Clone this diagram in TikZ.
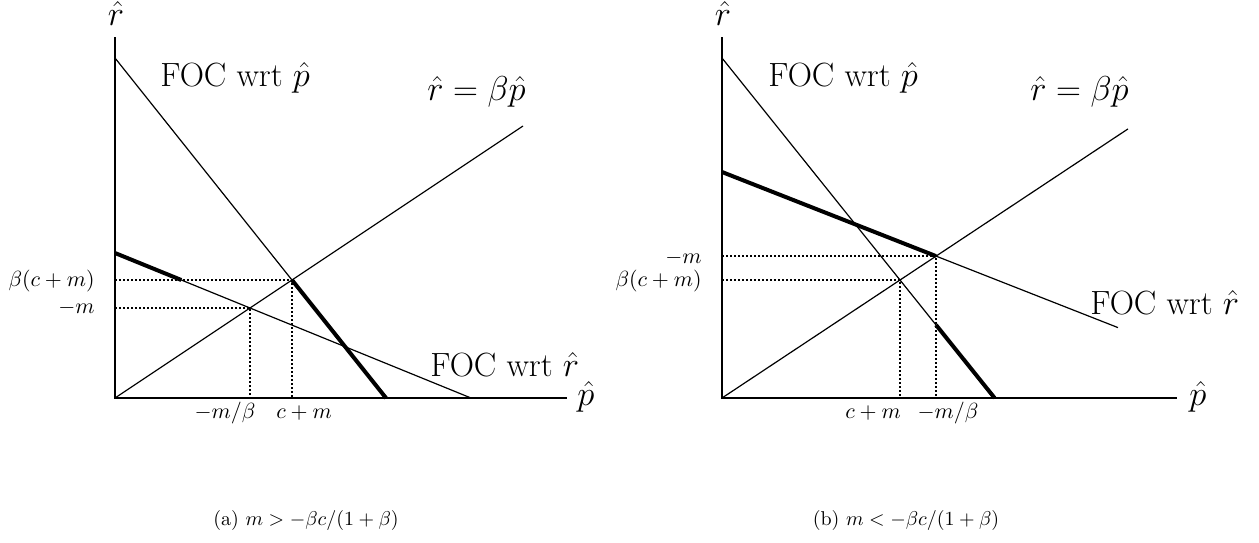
\documentclass[tikz,border=0pt]{standalone}
\tikzset{
  axisline/.style={line width=1pt},
  curveline/.style={line width=0.6pt},
  boldline/.style={line width=2pt},
  guide/.style={line width=1pt, dash pattern=on 1pt off 1pt},
  mainlab/.style={font=\fontsize{16.8}{19}\selectfont, inner sep=0pt},
  smalllab/.style={font=\fontsize{11.4}{13}\selectfont, inner sep=0pt},
  caplab/.style={font=\fontsize{10}{12}\selectfont, inner sep=0pt},
}
\begin{document}
\begin{tikzpicture}[x=0.5pt,y=-0.5pt]
\useasboundingbox (0,0) rectangle (1259,542);
% ---------- left panel ----------
\coordinate (LO) at (115,398);
\coordinate (LYt) at (115,37);
\coordinate (LXr) at (567,398);
\coordinate (LA) at (115,58);
\coordinate (LE) at (292,280);
\coordinate (LB) at (386,398);
\coordinate (LR) at (523,126);
\coordinate (LC) at (115,253);
\coordinate (LF) at (250,308);
\coordinate (LD) at (471,398);
\coordinate (LK) at (181.3,280);
\draw[axisline] (LYt) -- (LO) -- (LXr);
\draw[curveline] (LA) -- (LB);
\draw[curveline] (LO) -- (LR);
\draw[curveline] (LC) -- (LD);
\draw[boldline] (LC) -- (LK);
\draw[boldline] (LE) -- (LB);
\draw[guide] (LO |- LE) -- (LE) -- (LE |- LO);
\draw[guide] (LO |- LF) -- (LF) -- (LF |- LO);
\node[mainlab, anchor=base] (lr) at (116,25) {$\hat r$};
\node[mainlab, anchor=base west] (lp) at (577,405) {$\hat p$};
\node[mainlab, anchor=base west] (lfocp) at (160,86) {FOC wrt $\hat p$};
\node[mainlab, anchor=base west] (lline) at (427,100) {$\hat r=\beta\hat p$};
\node[mainlab, anchor=base west] (lfocr) at (430,376) {FOC wrt $\hat r$};
\node[smalllab, anchor=base east] (lbcm) at (95,286) {$\beta(c+m)$};
\node[smalllab, anchor=base east] (lm) at (95,313) {$-m$};
\node[smalllab, anchor=base] (lmb) at (225,418) {$-m/\beta$};
\node[smalllab, anchor=base] (lcm) at (304,418) {$c+m$};
\node[caplab, anchor=base] (capa) at (306,525) {(a) $m>-\beta c/(1+\beta)$};
% ---------- right panel ----------
\coordinate (RO) at (722,398);
\coordinate (RYt) at (722,37);
\coordinate (RXr) at (1177,398);
\coordinate (RA) at (722,58);
\coordinate (RE) at (900,280);
\coordinate (RB) at (994.6,398);
\coordinate (RR) at (1128,128.9);
\coordinate (RC) at (722,172);
\coordinate (RF) at (936,256.1);
\coordinate (RD) at (1118,327.6);
\coordinate (RK) at (936,324.9);
\draw[axisline] (RYt) -- (RO) -- (RXr);
\draw[curveline] (RA) -- (RB);
\draw[curveline] (RO) -- (RR);
\draw[curveline] (RC) -- (RD);
\draw[boldline] (RC) -- (RF);
\draw[boldline] (RK) -- (RB);
\draw[guide] (RO |- RF) -- (RF) -- (RF |- RO);
\draw[guide] (RO |- RE) -- (RE) -- (RE |- RO);
\node[mainlab, anchor=base] (rr) at (723,25) {$\hat r$};
\node[mainlab, anchor=base west] (rp) at (1189,405) {$\hat p$};
\node[mainlab, anchor=base west] (rfocp) at (768,86) {FOC wrt $\hat p$};
\node[mainlab, anchor=base west] (rline) at (1030,100) {$\hat r=\beta\hat p$};
\node[mainlab, anchor=base west] (rfocr) at (1090,314) {FOC wrt $\hat r$};
\node[smalllab, anchor=base east] (rm) at (702,263) {$-m$};
\node[smalllab, anchor=base east] (rbcm) at (702,286) {$\beta(c+m)$};
\node[smalllab, anchor=base] (rcm) at (873,418) {$c+m$};
\node[smalllab, anchor=base] (rmb) at (948,418) {$-m/\beta$};
\node[caplab, anchor=base] (capb) at (906,525) {(b) $m<-\beta c/(1+\beta)$};
\end{tikzpicture}
\end{document}
